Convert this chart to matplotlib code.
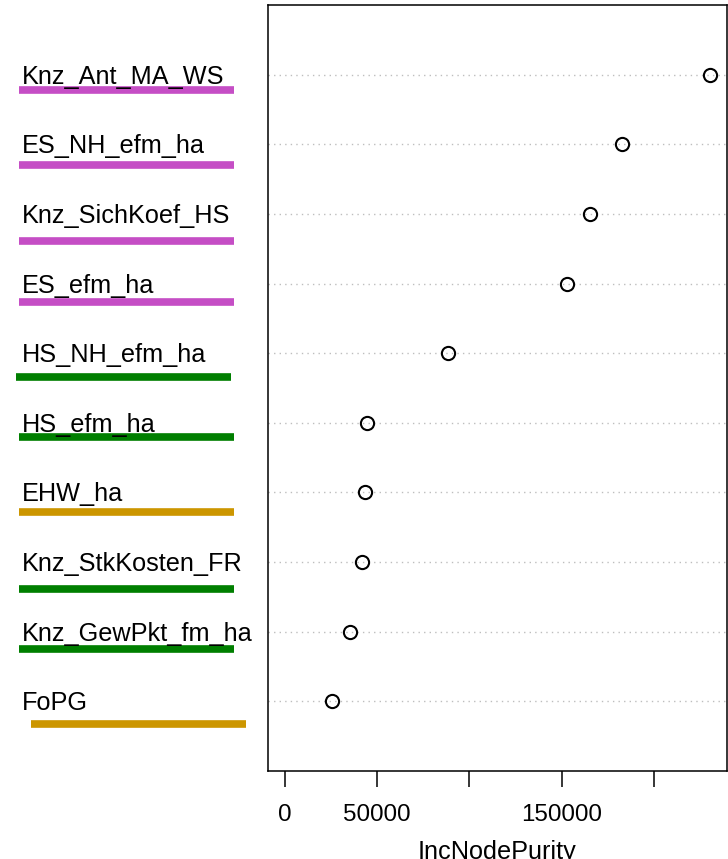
import matplotlib
matplotlib.use("Agg")
import matplotlib.pyplot as plt
import matplotlib.transforms as mtransforms

# ---- data (bottom to top as drawn) ----
variables = ["FoPG", "Knz_GewPkt_fm_ha", "Knz_StkKosten_FR", "EHW_ha",
             "HS_efm_ha", "HS_NH_efm_ha", "ES_efm_ha", "Knz_SichKoef_HS",
             "ES_NH_efm_ha", "Knz_Ant_MA_WS"]
inc_node_purity = [25500, 35300, 41800, 43500, 44600, 88600, 152700,
                   165200, 182600, 230400]
group = ["gold", "green", "green", "gold", "green", "green", "magenta",
         "magenta", "magenta", "magenta"]
xticks = [0, 50000, 100000, 150000, 200000]
xticklabels = ["0", "50000", "", "150000", ""]
xlabel = "IncNodePurity"

# ---- style / layout ----
colors = {"magenta": "#C54EC5", "green": "#007F00", "gold": "#CC9600"}
# underline vertical offsets (px below row centre) and x extents (px)
underline_off = [23, 17.5, 26.5, 20, 14.5, 24, 18, 27, 21, 15.5]
underline_x = [(31, 246), (19, 234), (19, 234), (19, 234), (19, 234),
               (16, 231), (19, 234), (19, 234), (19, 234), (19, 234)]

W, H, DPI = 728, 859, 100
plt.rcParams["font.family"] = ["Liberation Sans", "DejaVu Sans"]
fig = plt.figure(figsize=(W / DPI, H / DPI), dpi=DPI)
ax = fig.add_axes([268 / W, 88 / H, (727 - 268) / W, (854 - 88) / H])

n = len(variables)
ypos = list(range(1, n + 1))
xmax = max(inc_node_purity)
ext = 0.04 * xmax
ax.set_xlim(-ext, xmax + ext)
ax.set_ylim(0, n + 1)

for y in ypos:
    ax.axhline(y, color="#BEBEBE", linestyle=(0, (1, 3)), linewidth=1.0, zorder=1)
ax.plot(inc_node_purity, ypos, linestyle="none", marker="o", markersize=9.5,
        markerfacecolor="none", markeredgecolor="black", markeredgewidth=1.5,
        zorder=3)

ax.set_yticks([])
ax.set_xticks(xticks)
ax.set_xticklabels(xticklabels, fontsize=17.4)
ax.tick_params(axis="x", length=11.5, width=1.1, pad=12, color="black")
ax.set_xlabel(xlabel, fontsize=18.2, labelpad=10)
for s in ax.spines.values():
    s.set_linewidth(1.1)

blend = mtransforms.blended_transform_factory(fig.transFigure, ax.transData)
for i, (name, y, g) in enumerate(zip(variables, ypos, group)):
    ttr = blend + mtransforms.ScaledTranslation(0, -9 / DPI, fig.dpi_scale_trans)
    fig.text(22 / W, y, name, transform=ttr, fontsize=18.2, va="baseline",
             ha="left", color="black")
    btr = blend + mtransforms.ScaledTranslation(0, -underline_off[i] / DPI,
                                                fig.dpi_scale_trans)
    x0, x1 = underline_x[i]
    line = plt.Line2D([x0 / W, x1 / W], [y, y], transform=btr,
                      color=colors[g], linewidth=5.5, solid_capstyle="butt")
    fig.add_artist(line)

fig.savefig("out.png", dpi=DPI)
